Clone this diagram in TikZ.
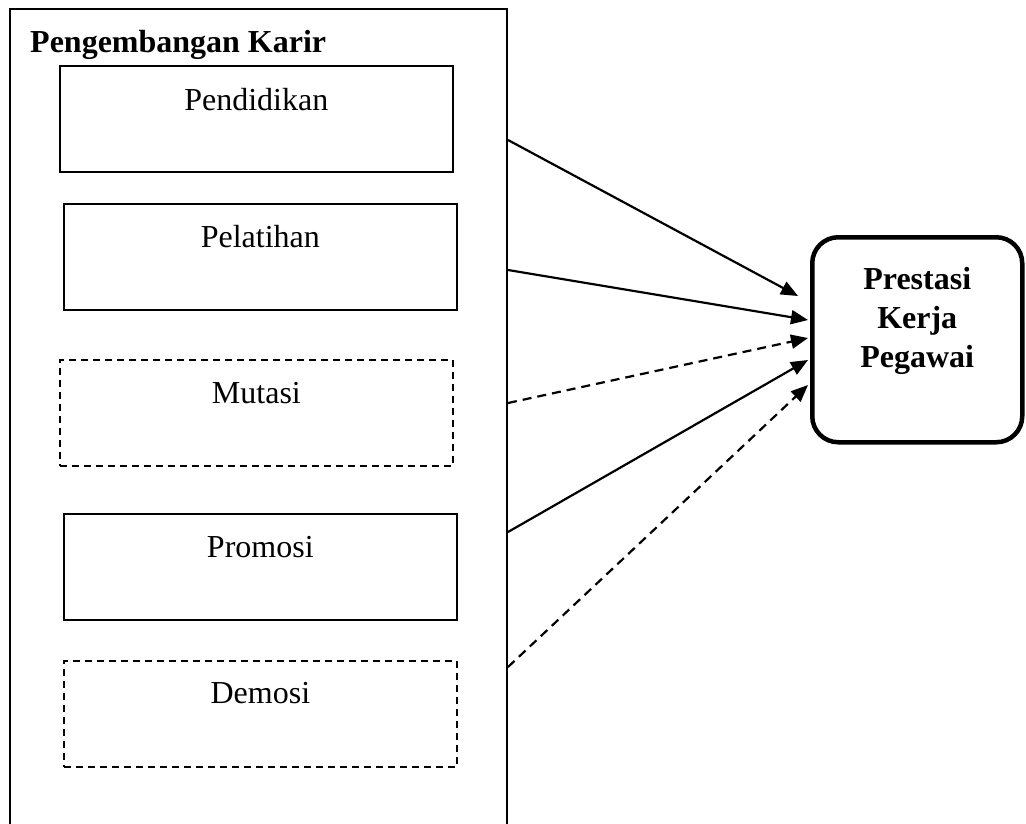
\documentclass[tikz,border=0pt]{standalone}
\usepackage{fontspec}
\setmainfont{Liberation Serif}
\usetikzlibrary{arrows.meta,calc}
\begin{document}
\begin{tikzpicture}[x=1pt,y=-1pt,
  solidbox/.style={draw,line width=1.6pt,rectangle,anchor=north west,minimum width=393pt,minimum height=106pt,inner sep=0pt},
  dashbox/.style={solidbox,line width=1.8pt,dash pattern=on 7pt off 5pt},
  boxtext/.style={anchor=base,font=\fontsize{32}{38}\selectfont,inner sep=0pt},
  conn/.style={line width=2.2pt,-{Triangle[length=17pt,width=14pt]}},
  dconn/.style={conn,dash pattern=on 9pt off 6pt}]
\useasboundingbox (0,0) rectangle (1026,823);
\clip (0,0) rectangle (1026,823);
% outer group
\node[draw,line width=2pt,rectangle,anchor=north west,minimum width=497pt,minimum height=840pt,inner sep=0pt] (karir) at (9,8) {};
\node[anchor=base west,font=\fontsize{32}{38}\selectfont\bfseries,inner sep=0pt] (title) at (30,52) {Pengembangan Karir};
% inner boxes
\node[solidbox] (pend) at (59,65) {};
\node[boxtext] (pendt) at ($(pend.north)+(0,45)$) {Pendidikan};
\node[solidbox] (pel) at (63,203) {};
\node[boxtext] (pelt) at ($(pel.north)+(0,44)$) {Pelatihan};
\node[dashbox] (mut) at (59,359) {};
\node[boxtext] (mutt) at ($(mut.north)+(0,44)$) {Mutasi};
\node[solidbox] (prom) at (63,513) {};
\node[boxtext] (promt) at ($(prom.north)+(0,44)$) {Promosi};
\node[dashbox] (dem) at (63,660) {};
\node[boxtext] (demt) at ($(dem.north)+(0,43)$) {Demosi};
% target
\node[draw,line width=4.5pt,rounded corners=26pt,rectangle,anchor=north west,minimum width=210pt,minimum height=205pt,inner sep=0pt] (pk) at (810,235) {};
\node[align=center,font=\fontsize{32}{39}\selectfont\bfseries,inner sep=0pt] (pkt) at (pk.north |- 0,320.5) {Prestasi\\Kerja\\Pegawai};
% connector ends
\coordinate (s1) at (karir.east |- 0,140);
\coordinate (s2) at (karir.east |- 0,270);
\coordinate (s3) at (karir.east |- 0,403);
\coordinate (s4) at (karir.east |- 0,532);
\coordinate (s5) at (karir.east |- 0,667);
\coordinate (t1) at (798,296);
\coordinate (t2) at (808,320);
\coordinate (t3) at (808,338);
\coordinate (t4) at (808,360);
\coordinate (t5) at (808,385);
\draw[conn] (s1) -- (t1);
\draw[conn] (s2) -- (t2);
\draw[dconn] (s3) -- (t3);
\draw[conn] (s4) -- (t4);
\draw[dconn] (s5) -- (t5);
\end{tikzpicture}
\end{document}
